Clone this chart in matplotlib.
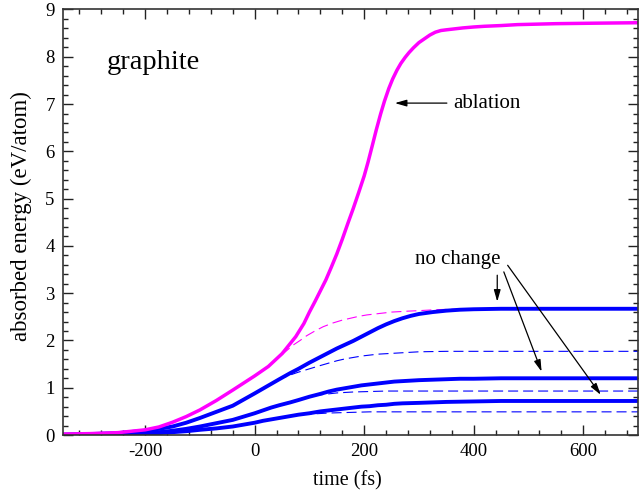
import matplotlib
matplotlib.use("Agg")
import matplotlib.pyplot as plt
from matplotlib.ticker import MultipleLocator

plt.rcParams["font.family"] = ["Liberation Serif", "DejaVu Serif"]

# ablation run: time (fs) and absorbed energy (eV/atom)
t_abl = [-350, -300, -250, -200, -175, -150, -125, -100, -70, -40, -20, 0, 25,
         50, 75, 90, 100, 110, 120, 130, 140, 150, 160, 170, 180, 190, 200, 207,
         215, 222, 230, 237, 245, 252, 260, 267, 275, 282, 290, 300, 310, 320,
         330, 340, 350, 365, 380, 400, 420, 450, 480, 550, 620, 700]
e_abl = [0.02, 0.03, 0.05, 0.11, 0.17, 0.27, 0.39, 0.53, 0.73, 0.95, 1.10, 1.25,
         1.45, 1.72, 2.08, 2.36, 2.60, 2.82, 3.05, 3.28, 3.55, 3.83, 4.14, 4.47,
         4.79, 5.13, 5.48, 5.77, 6.13, 6.45, 6.79, 7.06, 7.33, 7.53, 7.72, 7.86,
         7.99, 8.09, 8.19, 8.30, 8.38, 8.46, 8.52, 8.555, 8.57, 8.59, 8.61, 8.63,
         8.645, 8.66, 8.68, 8.70, 8.71, 8.72]

# same laser pulse, energy absorbed by the unperturbed lattice
t_abl_d = [-350, -300, -250, -200, -175, -150, -125, -100, -70, -40, -20, 0, 25,
           40, 50, 60, 70, 83, 95, 110, 125, 143, 160, 175, 190, 205, 220, 235,
           250, 265, 280, 300, 330, 357, 450, 700]
e_abl_d = [0.02, 0.03, 0.05, 0.11, 0.17, 0.27, 0.39, 0.53, 0.73, 0.95, 1.10, 1.25,
           1.45, 1.60, 1.70, 1.80, 1.90, 2.00, 2.10, 2.20, 2.29, 2.37, 2.43, 2.47,
           2.51, 2.54, 2.56, 2.58, 2.60, 2.61, 2.62, 2.63, 2.65, 2.66, 2.66, 2.66]

# lower intensities, no structural change
t_nc = [-350, -300, -250, -200, -175, -150, -125, -100, -70, -40, -20, 0, 15, 30,
        45, 65, 80, 100, 120, 135, 150, 165, 180, 195, 210, 225, 240, 255, 270,
        285, 300, 325, 350, 375, 400, 450, 700]
e_nc_hi = [0.01, 0.02, 0.04, 0.09, 0.13, 0.18, 0.26, 0.36, 0.49, 0.62, 0.75, 0.88,
           0.98, 1.08, 1.18, 1.31, 1.40, 1.53, 1.65, 1.74, 1.83, 1.91, 1.99, 2.08,
           2.17, 2.26, 2.34, 2.41, 2.47, 2.52, 2.56, 2.60, 2.63, 2.65, 2.66, 2.67,
           2.67]
e_nc_mid = [0.00, 0.01, 0.02, 0.04, 0.06, 0.09, 0.13, 0.18, 0.25, 0.32, 0.39,
            0.46, 0.52, 0.58, 0.63, 0.69, 0.74, 0.81, 0.87, 0.92, 0.96, 0.99,
            1.02, 1.05, 1.07, 1.09, 1.11, 1.13, 1.14, 1.15, 1.16, 1.17, 1.18,
            1.19, 1.19, 1.20, 1.20]
e_nc_lo = [0.00, 0.01, 0.02, 0.03, 0.04, 0.06, 0.08, 0.11, 0.14, 0.18, 0.22, 0.26,
           0.30, 0.33, 0.36, 0.40, 0.43, 0.46, 0.50, 0.52, 0.54, 0.56, 0.58, 0.60,
           0.61, 0.63, 0.64, 0.66, 0.67, 0.675, 0.68, 0.69, 0.70, 0.705, 0.71,
           0.72, 0.72]

e_nc_hi_d = [0.01, 0.02, 0.04, 0.09, 0.13, 0.18, 0.26, 0.36, 0.49, 0.62, 0.75,
             0.88, 0.98, 1.08, 1.18, 1.27, 1.33, 1.40, 1.47, 1.52, 1.57, 1.61,
             1.64, 1.67, 1.69, 1.71, 1.72, 1.73, 1.74, 1.75, 1.76, 1.765, 1.77,
             1.77, 1.77, 1.77, 1.77]
e_nc_mid_d = [0.00, 0.01, 0.02, 0.04, 0.06, 0.09, 0.13, 0.18, 0.25, 0.32, 0.39,
              0.46, 0.52, 0.58, 0.63, 0.69, 0.74, 0.81, 0.85, 0.87, 0.89, 0.90,
              0.91, 0.915, 0.92, 0.925, 0.93, 0.93, 0.93, 0.93, 0.93, 0.93, 0.93,
              0.93, 0.93, 0.93, 0.93]
e_nc_lo_d = [0.00, 0.01, 0.02, 0.03, 0.04, 0.06, 0.08, 0.11, 0.14, 0.18, 0.22,
             0.26, 0.30, 0.33, 0.36, 0.40, 0.43, 0.44, 0.455, 0.465, 0.47, 0.475,
             0.48, 0.485, 0.49, 0.49, 0.49, 0.49, 0.49, 0.49, 0.49, 0.49, 0.49,
             0.49, 0.49, 0.49, 0.49]

MAGENTA = "#ff00ff"
BLUE = "#0000ff"

fig = plt.figure(figsize=(6.39, 4.94), dpi=100)
ax = fig.add_axes([0.0986, 0.1194, 0.8998, 0.8614])

dash = (0, (9, 4.5))
ax.plot(t_abl_d, e_abl_d, color=MAGENTA, lw=0.8, ls=dash)
ax.plot(t_nc, e_nc_hi_d, color=BLUE, lw=0.8, ls=dash)
ax.plot(t_nc, e_nc_mid_d, color=BLUE, lw=0.8, ls=dash)
ax.plot(t_nc, e_nc_lo_d, color=BLUE, lw=0.8, ls=dash)

solid = dict(solid_capstyle="butt", solid_joinstyle="round")
ax.plot(t_nc, e_nc_lo, color=BLUE, lw=2.8, **solid)
ax.plot(t_nc, e_nc_mid, color=BLUE, lw=2.8, **solid)
ax.plot(t_nc, e_nc_hi, color=BLUE, lw=2.8, **solid)
ax.plot(t_abl, e_abl, color=MAGENTA, lw=2.5, **solid)

ax.set_xlim(-350, 700)
ax.set_ylim(0, 9)
ax.xaxis.set_major_locator(MultipleLocator(200))
ax.xaxis.set_minor_locator(MultipleLocator(40))
ax.yaxis.set_major_locator(MultipleLocator(1))
ax.yaxis.set_minor_locator(MultipleLocator(0.2))
ax.tick_params(which="both", direction="in", top=True, right=True,
               width=1.0, color="#222222")
ax.tick_params(which="major", length=7, labelsize=13.5, pad=6)
ax.tick_params(which="minor", length=3.6)
for s in ax.spines.values():
    s.set_linewidth(1.2)
    s.set_color("#333333")

ax.set_xticks([-200, 0, 200, 400, 600])
ax.set_xticklabels(["-200", "0", "200", "400", "600"])

ax.set_xlabel("time (fs)", fontsize=14.5)
ax.set_ylabel("absorbed energy (eV/atom)", fontsize=16.5)
ax.xaxis.set_label_coords(0.494, -0.085)
ax.yaxis.set_label_coords(-0.054, 0.515)

ax.text(-271, 7.74, "graphite", fontsize=20.5, va="baseline", ha="left")

arrow = dict(arrowstyle="-|>,head_length=0.7,head_width=0.2", color="black",
             lw=0.9, shrinkA=0, shrinkB=0)
ax.annotate("", xy=(256, 7.02), xytext=(351, 7.02), arrowprops=arrow)
ax.text(362, 7.02, "ablation", fontsize=15, va="center", ha="left")

ax.text(293, 3.72, "no change", fontsize=15, va="center", ha="left")
ax.annotate("", xy=(443, 2.82), xytext=(443, 3.38), arrowprops=arrow)
ax.annotate("", xy=(524, 1.34), xytext=(455, 3.45), arrowprops=arrow)
ax.annotate("", xy=(632, 0.85), xytext=(462, 3.59), arrowprops=arrow)

fig.savefig("out.png", dpi=100)
